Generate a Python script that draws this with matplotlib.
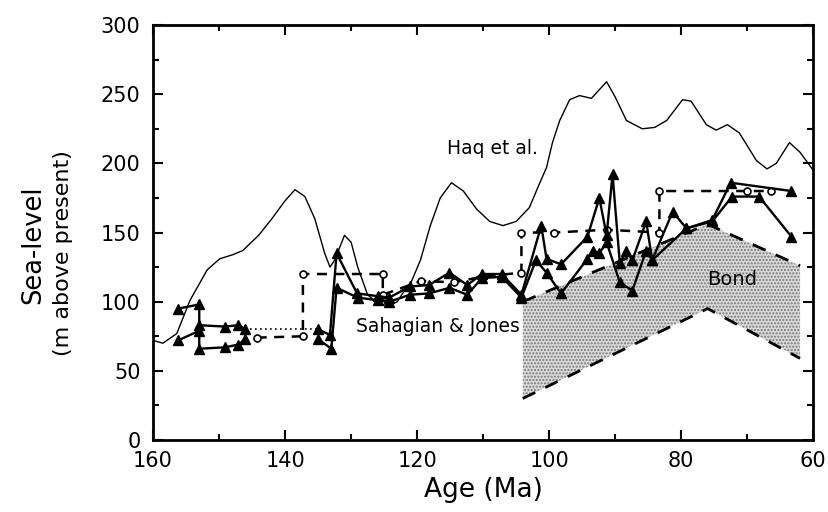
import numpy as np
import matplotlib.pyplot as plt
from matplotlib.ticker import MultipleLocator

# Haq et al. curve
haq_age = [160, 158.5, 156.4, 154.4, 151.8, 149.9, 147.9, 146.4, 144, 142, 140, 138.5, 137,
           135.5, 134, 133.2, 132.5, 131, 130, 129, 127.5, 126, 124.5, 123, 122.2, 121, 119.5,
           118, 116.5, 114.8, 113, 111, 109, 107, 105, 103, 101.5, 100.4, 99.5, 98.4, 96.9,
           95.4, 93.6, 91.3, 90, 88.3, 85.9, 84, 82.2, 79.8, 78.5, 76.2, 74.7, 73, 71.2, 68.6,
           67, 65.6, 63.6, 62, 60]
haq_val = [72, 70, 77, 101, 123, 131, 134, 137, 148, 160, 173, 181, 176,
           160, 135, 125, 130, 148, 143, 125, 105, 99, 97, 100, 106, 113, 130,
           155, 175, 186, 180, 167, 158, 155, 158, 168, 185, 197, 215, 231, 246,
           249, 247, 259, 248, 231, 225, 226, 231, 246, 245, 228, 224, 228, 222, 202,
           196, 200, 215, 208, 195]

# Sahagian & Jones, upper solid series (triangles)
up_age = [156.2, 153, 153, 149.1, 147.1, 146]
up_val = [95, 98, 83, 82, 83, 80]
up2_age = [135, 133.2, 132.2, 129.1, 126, 124.2, 121.1, 118.2, 115.1, 112.4, 110.2, 107.2, 104.2,
           101.2, 100.4, 98.2, 94.2, 92.4, 91.3, 90.4, 89.3, 88.3, 87.4, 85.3, 84.4, 81.3,
           79.2, 75.3, 72.5, 63.3]
up2_val = [80, 76, 135, 106, 104, 103, 111, 112, 121, 112, 120, 120, 105,
           155, 131, 127, 147, 175, 148, 192, 128, 137, 130, 158, 130, 165,
           153, 159, 186, 180]

# Sahagian & Jones, lower solid series (triangles)
lo_age = [156.2, 153, 153, 149.1, 147.1, 146]
lo_val = [72, 79, 66, 67, 69, 73]
lo2_age = [135, 133, 132.2, 129, 126, 124.2, 121.1, 118.2, 115.1, 112.4, 110.2, 107.2, 104.2,
           102, 100.4, 98.2, 94.2, 93.4, 92.4, 91.3, 89.3, 87.4, 85.3, 84.4, 79.2, 75.3,
           72.3, 68.2, 63.3]
lo2_val = [73, 66, 110, 103, 101, 100, 105, 106, 110, 105, 117, 118, 103,
           130, 121, 106, 131, 137, 135, 143, 114, 108, 137, 130, 153, 158,
           176, 176, 147]

# dashed series with open circles
dash_age = [144.3, 137.3, 137.3, 125.2, 125.2, 119.4, 114.4, 110.2, 104.2, 104.2, 99.2, 91.3,
            83.3, 83.3, 70.1, 66.4]
dash_val = [74, 75, 120, 120, 105, 115, 114, 118, 121, 150, 150, 152,
            150, 180, 180, 180]

# dotted connection
dot_age = [146, 135]
dot_val = [80, 80]

# Bond envelope
bond_age = [104, 76, 62]
bond_top = [100, 156, 126]
bond_bot = [30, 95, 59]

fig = plt.figure(figsize=(8.29, 5.12), dpi=100)
ax = fig.add_axes([0.1846, 0.1406, 0.7964, 0.8105])

ax.fill_between(bond_age, bond_bot, bond_top, facecolor='#d9d9d9', edgecolor='#777777',
                hatch='.....', linewidth=0, zorder=1)
ax.plot(bond_age, bond_top, color='black', lw=2, ls=(0, (5, 4)), zorder=2)
ax.plot(bond_age, bond_bot, color='black', lw=2, ls=(0, (5, 4)), zorder=2)

ax.plot(haq_age, haq_val, color='black', lw=1, zorder=3)

ax.plot(dot_age, dot_val, color='black', lw=1.2, ls=(0, (1, 2)), zorder=3)
ax.plot(dash_age, dash_val, color='black', lw=1.8, ls=(0, (4, 3)), marker='o',
        ms=5, mfc='white', mec='black', mew=1.2, zorder=4)

for a, v in [(up_age, up_val), (up2_age, up2_val), (lo_age, lo_val), (lo2_age, lo2_val)]:
    ax.plot(a, v, color='black', lw=1.7, marker='^', ms=6.5, zorder=5)

ax.text(108.6, 211, 'Haq et al.', fontsize=13.5, ha='center', va='center')
ax.text(104.5, 82, 'Sahagian & Jones', fontsize=13.5, ha='right', va='center')
ax.text(72.3, 116, 'Bond', fontsize=14, ha='center', va='center')

ax.set_xlim(160, 60)
ax.set_ylim(0, 300)
ax.xaxis.set_major_locator(MultipleLocator(20))
ax.xaxis.set_minor_locator(MultipleLocator(10))
ax.yaxis.set_major_locator(MultipleLocator(50))
ax.yaxis.set_minor_locator(MultipleLocator(25))
ax.tick_params(which='both', direction='in', top=True, right=True, width=1.5)
ax.tick_params(which='major', length=7, labelsize=15)
ax.tick_params(which='minor', length=4)
ax.tick_params(axis='x', pad=8)
ax.tick_params(axis='y', pad=9)
for s in ax.spines.values():
    s.set_linewidth(2)

ax.set_xlabel('Age (Ma)', fontsize=19, labelpad=4)
ax.text(-0.182, 0.47, 'Sea-level', rotation=90, fontsize=18.5, ha='center', va='center',
        transform=ax.transAxes)
ax.text(-0.137, 0.45, '(m above present)', rotation=90, fontsize=16, ha='center', va='center',
        transform=ax.transAxes)

fig.savefig('out.png', dpi=100)
